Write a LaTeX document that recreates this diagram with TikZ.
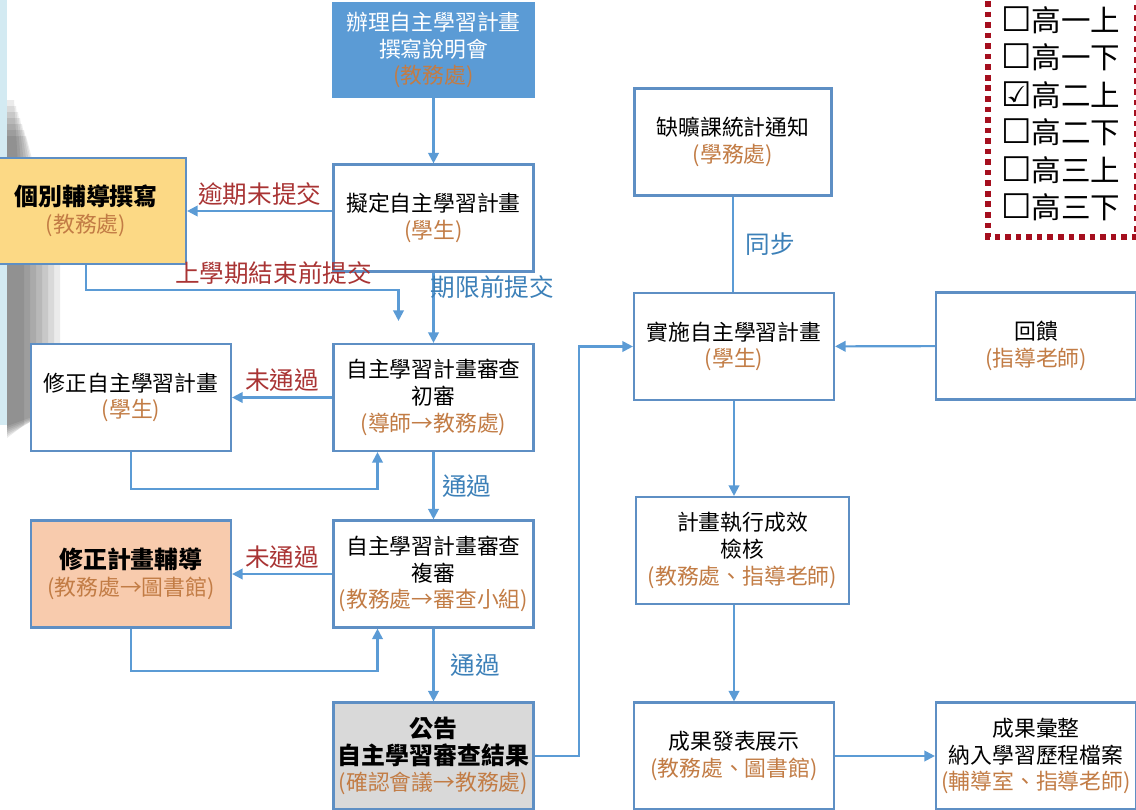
\documentclass[tikz,border=0pt]{standalone}
\usepackage{fontspec}
\setmainfont{Noto Sans CJK TC}
\newfontfamily\legendsym[Scale=1.15]{DejaVu Sans Bold}
\usetikzlibrary{arrows.meta,calc}

\definecolor{flow_blue}{HTML}{5B9BD5}
\definecolor{frame_blue}{HTML}{5E8FC4}
\definecolor{note_red}{HTML}{A93434}
\definecolor{note_blue}{HTML}{3C80B8}
\definecolor{who_brown}{HTML}{C27C45}
\definecolor{tutor_yellow}{HTML}{FCD985}
\definecolor{fix_orange}{HTML}{F8CBAD}
\definecolor{notice_gray}{HTML}{D9D9D9}
\definecolor{legend_red}{HTML}{A50F1E}
\definecolor{page_blue}{HTML}{D3EAF2}

\newcommand{\who}[1]{{\color{who_brown}#1}}

\begin{document}
\begin{tikzpicture}[x=0.025cm, y=-0.025cm,
  box/.style={draw=frame_blue, line width=1.5pt, fill=white, align=center, minimum width=5cm, minimum height=2.675cm, inner sep=2pt, font=\fontsize{15.5}{19}\selectfont},
  arr/.style={draw=flow_blue, line width=1.5pt, -{Triangle[length=7.5pt,width=7.5pt]}},
  link/.style={draw=flow_blue, line width=1.5pt},
  redlabel/.style={text=note_red, font=\fontsize{17.5}{21}\selectfont},
  bluelabel/.style={text=note_blue, font=\fontsize{17.5}{21}\selectfont},
  legend/.style={anchor=west, inner sep=0pt, font=\fontsize{21}{25}\selectfont}]
   \useasboundingbox (0,0) rectangle (1136,809);
   \clip (0,0) rectangle (1136,809);
   % page edge and its soft shadow at the left
   \foreach \w in {0,6,...,36}
      \fill [black, opacity=0.08] (7,{100+\w}) -- ({14+\w/3},{100+\w}) -- ({24+\w},265) -- ({24+\w},{425-\w/2}) -- (7,{438-\w/3}) -- cycle;
   \fill [page_blue] (0,0) rectangle (7,425);
   % plan writing and first review
   \node [box, fill=flow_blue, draw=flow_blue, text=white, minimum height=2.35cm] (brief) at (433.5,50) {辦理自主學習計畫\\撰寫說明會\\\who{(教務處)}};
   \node [box] (draft) at (433.5,218) {擬定自主學習計畫\\\who{(學生)}};
   \node [box, fill=tutor_yellow, minimum height=2.65cm] (tutor) at (86,211) {{\bfseries\fontsize{17}{21}\selectfont 個別輔導撰寫}\\\who{(教務處)}};
   \node [box] (rev1) at (433.5,397.5) {自主學習計畫審查\\初審\\\who{(導師→教務處)}};
   \node [box] (fix1) at (131,397.5) {修正自主學習計畫\\\who{(學生)}};
   % second review and result
   \node [box] (rev2) at (433.5,574) {自主學習計畫審查\\複審\\\who{(教務處→審查小組)}};
   \node [box, fill=fix_orange] (fix2) at (131,574) {{\bfseries\fontsize{17}{21}\selectfont 修正計畫輔導}\\\who{(教務處→圖書館)}};
   \node [box, fill=notice_gray] (notice) at (433.5,756) {{\bfseries\fontsize{17}{21}\selectfont 公告}\\{\bfseries\fontsize{17}{21}\selectfont 自主學習審查結果}\\\who{(確認會議→教務處)}};
   % carrying out the plan
   \node [box, minimum width=4.925cm] (absence) at (733,142) {缺曠課統計通知\\\who{(學務處)}};
   \node [box] (implement) at (734,346.5) {實施自主學習計畫\\\who{(學生)}};
   \node [box] (feedback) at (1036,346) {回饋\\\who{(指導老師)}};
   \node [box, minimum width=5.325cm] (check) at (742.5,550.5) {計畫執行成效\\檢核\\\who{(教務處、指導老師)}};
   \node [box] (present) at (734,756) {成果發表展示\\\who{(教務處、圖書館)}};
   \node [box] (collect) at (1036,756) {成果彙整\\納入學習歷程檔案\\\who{(輔導室、指導老師)}};
   % left column arrows
   \draw [arr] (brief) -- (draft);
   \draw [arr] (draft.west |- tutor.east) -- node [redlabel, above] {逾期未提交} (tutor.east);
   \coordinate (late) at ($(rev1.north)+(-35,-22)$);
   \draw [arr] (tutor.south) |- node [redlabel, above, pos=0.8] {上學期結束前提交} ($(late)+(0,-31)$) -- (late);
   \draw [arr] (draft) -- node [bluelabel, right, pos=0.21, xshift=-6pt] {期限前提交} (rev1);
   \draw [arr] (rev1) -- node [redlabel, above] {未通過} (fix1);
   \draw [arr] (fix1.south) -- ++(0,37) -| ($(rev1.south)+(-56,0)$);
   \draw [arr] (rev1) -- node [bluelabel, right, xshift=2pt] {通過} (rev2);
   \draw [arr] (rev2) -- node [redlabel, above] {未通過} (fix2);
   \draw [arr] (fix2.south) -- ++(0,42) -| ($(rev2.south)+(-56,0)$);
   \draw [arr] (rev2) -- node [bluelabel, right, xshift=8pt] {通過} (notice);
   % right column arrows
   \draw [arr] (notice.east) -- ++(44,0) |- (implement.west);
   \draw [link] (absence.south) -- node [bluelabel, right, xshift=5pt] {同步} (absence.south |- implement.north);
   \draw [arr] (feedback) -- (implement);
   \draw [arr] (implement) -- (implement |- check.north);
   \draw [arr] (check.south -| present) -- (present);
   \draw [arr] (present) -- (collect);
   % semester checklist
   \draw [legend_red, line width=4pt, dash pattern=on 4pt off 3.5pt] (988,-20) rectangle (1137,237);
   \foreach \sym/\term [count=\i] in {☐/一上, ☐/一下, ☑/二上, ☐/二下, ☐/三上, ☐/三下}
      \node [legend] (sem\i) at (1001,{20+37.5*(\i-1)}) {{\legendsym\sym}高\term};
\end{tikzpicture}
\end{document}
